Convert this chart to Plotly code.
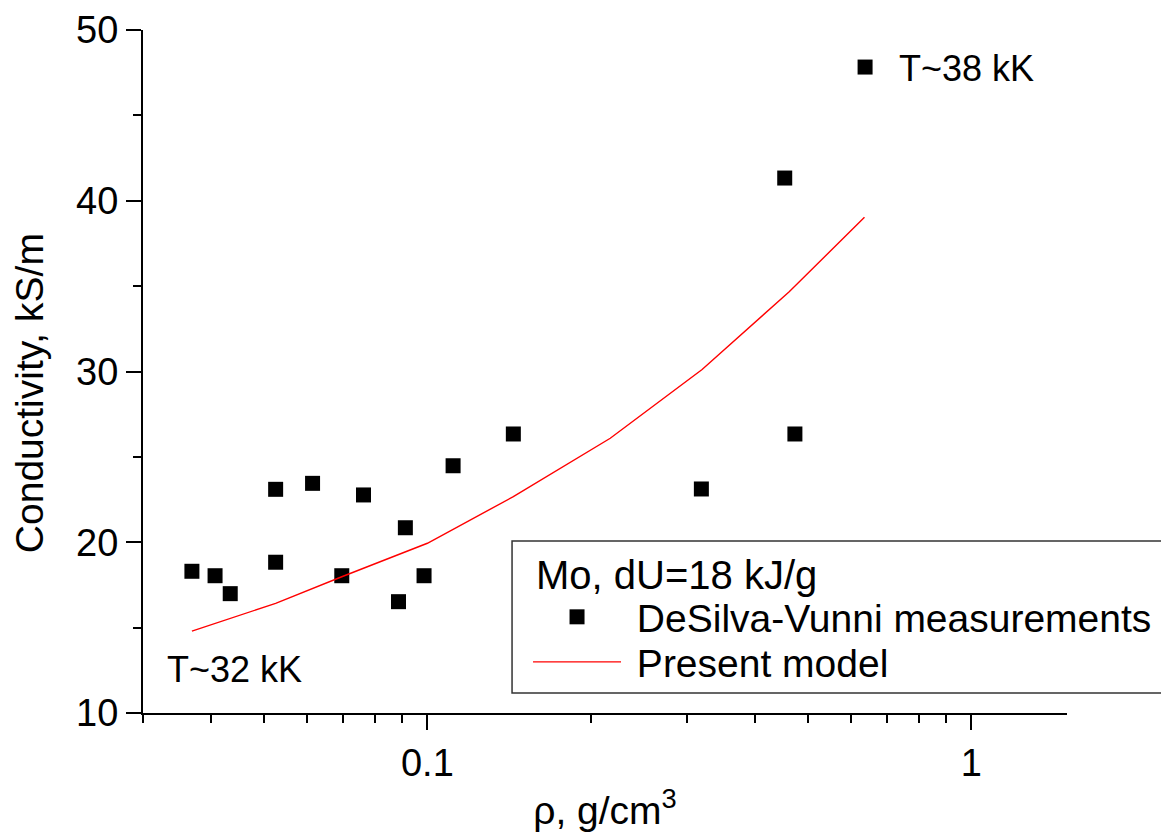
import math
import plotly.graph_objects as go

# DeSilva-Vunni measured conductivity of Mo at dU = 18 kJ/g
rho_meas = [0.0369, 0.0407, 0.0434, 0.0526, 0.0526, 0.0615, 0.0696, 0.0763,
            0.0885, 0.0911, 0.0986, 0.1115, 0.1439, 0.319, 0.454, 0.474, 0.638]
sigma_meas = [18.3, 18.04, 16.99, 18.83, 23.1, 23.45, 18.04, 22.77,
              16.52, 20.85, 18.04, 24.48, 26.34, 23.12, 41.33, 26.34, 47.83]

# Present model curve
rho_model = [0.0369, 0.0526, 0.0696, 0.1, 0.1439, 0.2169, 0.320, 0.4627, 0.6364]
sigma_model = [14.80, 16.42, 17.98, 19.94, 22.67, 26.09, 30.12, 34.67, 39.03]

x_major = [0.1, 1]
x_major_text = ["0.1", "1"]
x_minor = [0.03, 0.04, 0.05, 0.06, 0.07, 0.08, 0.09,
           0.2, 0.3, 0.4, 0.5, 0.6, 0.7, 0.8, 0.9]
y_major = [10, 20, 30, 40, 50]

FONT = "Liberation Sans, Arial, sans-serif"
FS = 39
LEG_FS = 39
NOTE_FS = 36
TICK_FS = 38
NB = "\u00a0"

fig = go.Figure()
fig.add_trace(go.Scatter(
    x=rho_meas, y=sigma_meas, mode="markers",
    name=NB + "DeSilva-Vunni measurements", legend="legend",
    marker=dict(symbol="square", size=15, color="black", line=dict(width=0)),
))
fig.add_trace(go.Scatter(
    x=rho_model, y=sigma_model, mode="lines",
    name=NB + "Present model", legend="legend2",
    line=dict(color="red", width=1.4),
))

# temperature labels next to the ends of the data range
fig.add_annotation(x=math.log10(0.729), y=47.72, xref="x", yref="y",
                   text="T~38 kK", showarrow=False, xanchor="left",
                   yanchor="middle", font=dict(size=NOTE_FS))
fig.add_annotation(x=math.log10(0.0329), y=12.52, xref="x", yref="y",
                   text="T~32 kK", showarrow=False, xanchor="left",
                   yanchor="middle", font=dict(size=NOTE_FS))

# y-axis title
fig.add_annotation(x=-0.1225, y=0.468, xref="paper", yref="paper",
                   text="Conductivity, kS/m", textangle=-90, showarrow=False,
                   xanchor="center", yanchor="middle", font=dict(size=FS))

# legend frame and heading
fig.add_shape(type="rect", xref="paper", yref="paper",
              x0=0.3994, x1=1.12, y0=0.0293, y1=0.2518,
              line=dict(color="#333333", width=1.5), fillcolor="rgba(0,0,0,0)")
fig.add_annotation(x=0.4232, y=0.2020, xref="paper", yref="paper",
                   text="Mo, dU=18 kJ/g", showarrow=False, xanchor="left",
                   yanchor="middle", font=dict(size=40))

legend_common = dict(
    xanchor="left", yanchor="middle", bgcolor="rgba(0,0,0,0)",
    borderwidth=0, font=dict(size=LEG_FS), itemwidth=88,
)

fig.update_layout(
    width=1161, height=835,
    margin=dict(l=143, r=94, t=30, b=122, autoexpand=False),
    paper_bgcolor="white", plot_bgcolor="white",
    font=dict(family=FONT, size=FS, color="black"),
    showlegend=True,
    legend=dict(x=0.4167, y=0.1406, **legend_common),
    legend2=dict(x=0.4167, y=0.0747, **legend_common),
    xaxis=dict(
        type="log", range=[-1.5229, 0.1761],
        tickvals=x_major, ticktext=x_major_text,
        ticks="outside", ticklen=15, tickwidth=2, tickcolor="black",
        showline=True, linecolor="black", linewidth=2,
        showgrid=False, zeroline=False,
        minor=dict(tickvals=x_minor, ticks="outside", ticklen=8,
                   tickwidth=2, tickcolor="black", showgrid=False),
        title=dict(text="ρ, g/cm<sup>3</sup>", font=dict(size=FS), standoff=14),
        tickfont=dict(size=TICK_FS),
    ),
    yaxis=dict(
        range=[10, 50], tickvals=y_major,
        ticks="outside", ticklen=15, tickwidth=2, tickcolor="black",
        showline=True, linecolor="black", linewidth=2,
        showgrid=False, zeroline=False,
        minor=dict(dtick=5, ticks="outside", ticklen=8, tickwidth=2,
                   tickcolor="black", showgrid=False),
        tickfont=dict(size=TICK_FS),
    ),
)

fig.write_html("out.html")
